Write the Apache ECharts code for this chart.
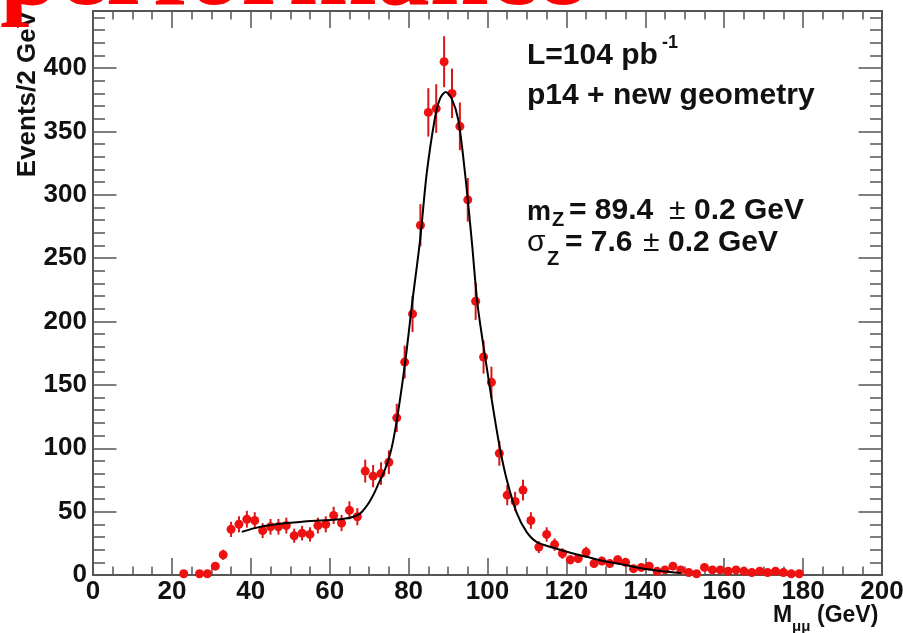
<!DOCTYPE html>
<html><head><meta charset="utf-8">
<script src="https://cdn.jsdelivr.net/npm/echarts@6/dist/echarts.min.js"></script>
<style>html,body{margin:0;padding:0;background:#fff}#c{width:903px;height:633px}</style>
</head><body><div id="c"></div>
<script>
// ---- data ----
const massBins = [23,27,29,31,33,35,37,39,41,43,45,47,49,51,53,55,57,59,61,63,65,67,69,71,73,75,77,79,81,83,85,87,89,91,93,95,97,99,101,103,105,107,109,111,113,115,117,119,121,123,125,127,129,131,133,135,137,139,141,143,145,147,149,151,153,155,157,159,161,163,165,167,169,171,173,175,177,179];
const counts   = [1,1,1,7,16,36,40,44,43,35,38,38,39,31,33,32,39,40,47,41,51,46,82,78,80,89,124,168,206,276,365,368,405,380,354,296,216,172,152,96,63,58,67,43,22,32,24,17,12,13,18,9,11,9,12,10,5,6,7,3,4,7,4,2,1,6,4,4,3,4,3,2,3,2,3,2,1,1];
const fitMass  = [37.7,41,45,49,53,57,61,64,66,67.5,68.5,69.5,70.5,71.5,72.8,73.6,75,76.1,77.8,79.5,80.8,82.9,84.6,86.7,88,89.4,90.9,92.6,94.3,96,97.5,99.8,101.5,103.2,104.9,107.4,109.9,112.5,116.7,121,125.1,129.3,133.6,137.8,142,146.3,149];
const fitValue = [34,37,39.4,41,42,43,43.5,44.5,46,48,51,55,60,66,75,80,92,106,138,177,212,264,317,361,376,381,376,359,317,264,213,164,130,99,75,49,34,26,21.5,17.6,14.4,11,8.7,6,4,2.4,1.6];
const xTickLabels = [0,20,40,60,80,100,120,140,160,180,200];
const yTickLabels = [0,50,100,150,200,250,300,350,400];
const X_MIN = 0, X_MAX = 200, Y_MIN = 0, Y_MAX = 445;

const FRAME = '#555';
const SANS = '"Liberation Sans", Arial, Helvetica, sans-serif';
const chart = echarts.init(document.getElementById('c'), null, {renderer: 'canvas'});

function xAx(pos, interval, len, labels) {
  return {
    type: 'value', position: pos, min: X_MIN, max: X_MAX, interval: interval,
    axisLine: {show: true, onZero: false, lineStyle: {color: FRAME, width: 2}},
    axisTick: {show: true, inside: true, length: len, lineStyle: {color: FRAME, width: 1.5}},
    axisLabel: labels ? {show: true, margin: 4, fontSize: 26, fontWeight: 'bold', fontFamily: SANS, color: '#111',
      formatter: v => xTickLabels.indexOf(v) >= 0 ? String(v) : ''} : {show: false},
    splitLine: {show: false}, minorTick: {show: false}
  };
}
function yAx(pos, interval, len, labels) {
  return {
    type: 'value', position: pos, min: Y_MIN, max: Y_MAX, interval: interval,
    axisLine: {show: true, onZero: false, lineStyle: {color: FRAME, width: 2}},
    axisTick: {show: true, inside: true, length: len, lineStyle: {color: FRAME, width: 1.5}},
    axisLabel: labels ? {show: true, margin: 6, fontSize: 26, fontWeight: 'bold', fontFamily: SANS, color: '#111',
      formatter: v => yTickLabels.indexOf(v) >= 0 ? String(v) : ''} : {show: false},
    splitLine: {show: false}, minorTick: {show: false}
  };
}

const points = massBins.map((m, i) => [m, counts[i]]);
const fitLine = fitMass.map((m, i) => [m, fitValue[i]]);

function txt(text, x, y, size, weight, opts) {
  return Object.assign({
    type: 'text', x: x, y: y, z: 100,
    style: {text: text, fontSize: size, fontWeight: weight, fontFamily: SANS, fill: '#111',
      align: 'left', verticalAlign: 'middle'}
  }, opts || {});
}

chart.setOption({
  animation: false,
  backgroundColor: '#fff',
  grid: {left: 93, right: 21, top: 11, bottom: 58, containLabel: false, outerBoundsMode: 'none'},
  xAxis: [xAx('bottom', 20, 17, true), xAx('bottom', 5, 8.5, false), xAx('top', 20, 17, false), xAx('top', 5, 8.5, false)],
  yAxis: [yAx('left', 50, 23.5, true), yAx('left', 10, 12, false), yAx('right', 50, 23.5, false), yAx('right', 10, 12, false)],
  series: [
    {
      type: 'custom', xAxisIndex: 0, yAxisIndex: 0, z: 3,
      data: points,
      renderItem: function (params, api) {
        const x = api.value(0), y = api.value(1), e = Math.sqrt(y);
        const p1 = api.coord([x, y + e]), p2 = api.coord([x, Math.max(0, y - e)]);
        return {type: 'line', shape: {x1: p1[0], y1: p1[1], x2: p2[0], y2: p2[1]},
          style: {stroke: '#d81818', lineWidth: 2}};
      }
    },
    {
      type: 'scatter', xAxisIndex: 0, yAxisIndex: 0, z: 4,
      data: points, symbol: 'circle', symbolSize: 9,
      itemStyle: {color: '#ee1111', opacity: 1}
    },
    {
      type: 'line', xAxisIndex: 0, yAxisIndex: 0, z: 5,
      data: fitLine, smooth: 0.3, showSymbol: false, symbol: 'none',
      lineStyle: {color: '#000', width: 2}
    }
  ],
  graphic: [
    // red title fragment at the very top
    {type: 'text', x: 0, y: -23, z: 200,
      style: {text: 'performance', fontSize: 106, fontWeight: 'bold', fontFamily: '"Liberation Serif", "Times New Roman", serif',
        fill: '#ff0000', align: 'left', verticalAlign: 'middle'}},
    // y-axis title
    {type: 'text', x: 28, y: 11, rotation: Math.PI / 2, z: 100,
      style: {text: 'Events/2 GeV', fontSize: 26, fontWeight: 'bold', fontFamily: SANS, fill: '#111',
        align: 'right', verticalAlign: 'middle'}},
    // x-axis title
    txt('M', 773, 615.5, 23, 'bold'),
    txt('μμ', 792, 627, 15, 'bold'),
    txt('(GeV)', 817, 615.5, 23, 'bold'),
    // annotations
    txt('L=104 pb', 527, 56, 30, 'bold'),
    txt('-1', 662, 43, 18, 'bold'),
    txt('p14 + new geometry', 527, 96, 30, 'bold'),
    txt('m', 527, 213, 27, 'bold'),
    txt('Z', 552, 220, 20, 'bold'),
    txt('= 89.4', 569, 211, 30, 'bold'),
    txt('±', 669, 211, 30, 'normal'),
    txt('0.2 GeV', 694, 211, 30, 'bold'),
    txt('σ', 527, 243, 30, 'normal'),
    txt('Z', 547, 259.5, 20, 'bold'),
    txt('= 7.6', 565, 243, 30, 'bold'),
    txt('±', 643, 243, 30, 'normal'),
    txt('0.2 GeV', 668, 243, 30, 'bold')
  ]
});
</script>
</body></html>
